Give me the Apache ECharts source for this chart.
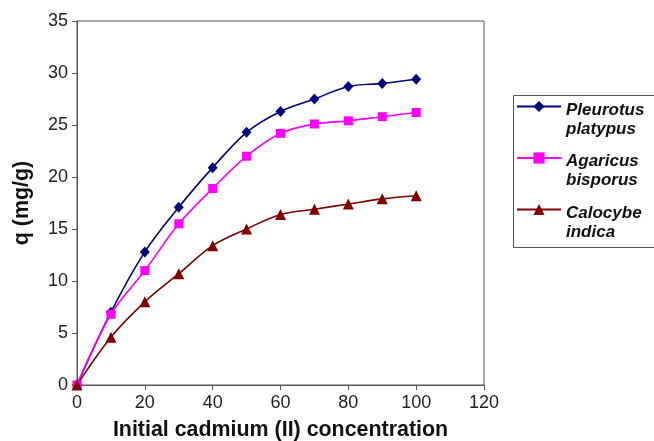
<!DOCTYPE html>
<html>
<head>
<meta charset="utf-8">
<script src="https://cdn.jsdelivr.net/npm/echarts@6/dist/echarts.min.js"></script>
<style>
  html, body { margin: 0; padding: 0; background: #fff; }
  #chart { width: 654px; height: 441px; }
</style>
</head>
<body>
<div id="chart"></div>
<script>
// Initial Cd(II) concentration (x) and uptake q in mg/g for three mushroom species
const concentration = [0, 10, 20, 30, 40, 50, 60, 70, 80, 90, 100];
const pleurotusPlatypus = [0, 7.0, 12.8, 17.1, 20.9, 24.3, 26.3, 27.5, 28.7, 29.0, 29.4];
const agaricusBisporus = [0, 6.8, 11.0, 15.5, 18.9, 22.0, 24.2, 25.1, 25.4, 25.8, 26.2];
const calocybeIndica = [0, 4.6, 8.0, 10.7, 13.4, 15.0, 16.4, 16.9, 17.4, 17.9, 18.2];

const speciesNames = ['Pleurotus platypus', 'Agaricus bisporus', 'Calocybe indica'];
const xAxisTitle = 'Initial cadmium (II) concentration';
const yAxisTitle = 'q (mg/g)';

const FONT = '"Liberation Sans", Arial, sans-serif';

function pairs(values) {
  return concentration.map((c, i) => [c, values[i]]);
}

function makeSeries(name, values, color, symbol, size) {
  return {
    name: name,
    type: 'line',
    data: pairs(values),
    smooth: 0.35,
    symbol: symbol,
    symbolSize: size,
    showSymbol: true,
    lineStyle: { color: color, width: 1.6 },
    itemStyle: { color: color },
    emphasis: { disabled: true },
    z: 3
  };
}

const chart = echarts.init(document.getElementById('chart'), null, { renderer: 'canvas' });

// Legend text: a spacer line on top so the legend icon sits beside the first word
const legendRich = {
  s: { lineHeight: 26, fontSize: 1 },
  a: {
    fontFamily: FONT, fontSize: 17, fontWeight: 'bold', fontStyle: 'italic',
    color: '#111', lineHeight: 19
  }
};

chart.setOption({
  animation: false,
  backgroundColor: '#ffffff',
  grid: {
    left: 77, top: 21, right: 170, bottom: 56,
    outerBoundsMode: 'none',
    containLabel: false,
    show: true, borderColor: '#555', borderWidth: 1
  },
  xAxis: {
    type: 'value',
    min: 0, max: 120, interval: 20,
    name: xAxisTitle,
    nameLocation: 'middle',
    nameGap: 35,
    nameTextStyle: { fontFamily: FONT, fontSize: 21.4, fontWeight: 'bold', color: '#111' },
    axisLine: { show: true, lineStyle: { color: '#555', width: 1 } },
    axisTick: { show: true, length: 5, lineStyle: { color: '#555' } },
    axisLabel: { margin: 9, fontFamily: FONT, fontSize: 18, color: '#222' },
    splitLine: { show: false }
  },
  yAxis: {
    type: 'value',
    min: 0, max: 35, interval: 5,
    name: yAxisTitle,
    nameLocation: 'middle',
    nameGap: 44,
    nameRotate: 90,
    nameTextStyle: { fontFamily: FONT, fontSize: 21.4, fontWeight: 'bold', color: '#111' },
    axisLine: { show: true, lineStyle: { color: '#555', width: 1 } },
    axisTick: { show: true, length: 5, lineStyle: { color: '#555' } },
    axisLabel: { margin: 9, fontFamily: FONT, fontSize: 18, color: '#222' },
    splitLine: { show: false }
  },
  legend: {
    orient: 'vertical',
    left: 516,
    top: 87,
    padding: 0,
    itemGap: 1,
    itemWidth: 44,
    itemHeight: 14,
    selectedMode: false,
    data: speciesNames,
    formatter: name => '{s| }\n' + name.split(' ').map(w => '{a|' + w + '}').join('\n'),
    textStyle: { rich: legendRich }
  },
  graphic: [{
    type: 'rect',
    left: 511, top: 93,
    shape: { width: 142, height: 152 },
    style: { fill: 'none', stroke: '#555', lineWidth: 1 },
    silent: true
  }],
  series: [
    makeSeries(speciesNames[0], pleurotusPlatypus, '#000080', 'diamond', [10, 11]),
    makeSeries(speciesNames[1], agaricusBisporus, '#ff00ff', 'rect', 9),
    makeSeries(speciesNames[2], calocybeIndica, '#800000', 'triangle', 11)
  ]
});
</script>
</body>
</html>
